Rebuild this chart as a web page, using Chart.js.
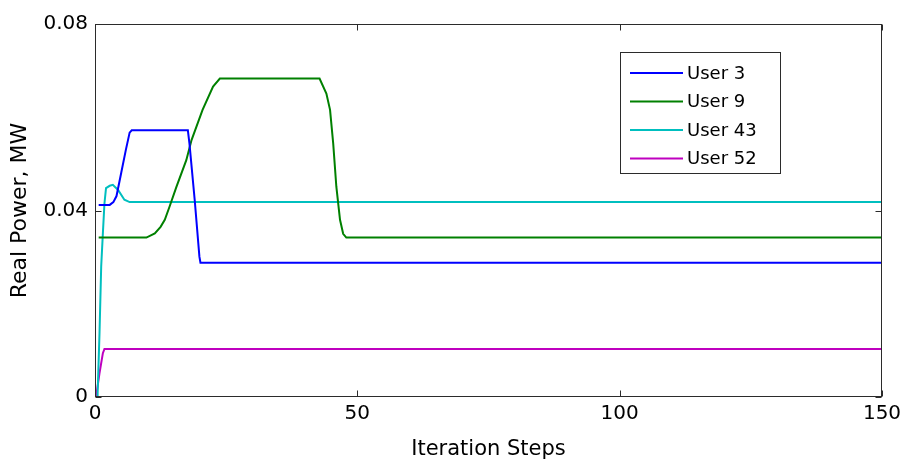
<!DOCTYPE html>
<html>
<head>
<meta charset="utf-8">
<script src="https://cdn.jsdelivr.net/npm/chart.js@4/dist/chart.umd.min.js"></script>
<style>
  html, body { margin: 0; padding: 0; background: #ffffff; }
  #wrap { width: 902px; height: 462px; }
</style>
</head>
<body>
<div id="wrap"><canvas id="chart" width="902" height="462"></canvas></div>
<script>
// Real power per user over the iteration steps
const seriesLabels = ['User 3', 'User 9', 'User 43', 'User 52'];
const seriesColors = ['#0000ff', '#008000', '#00bfbf', '#bf00bf'];

const user3Steps = [0.7, 2.8, 3.5, 4.1, 5.0, 5.9, 6.6, 7.0, 17.7, 18.0, 19.0, 19.9, 20.1, 150];
const user3Power = [0.0412, 0.0412, 0.0418, 0.0431, 0.0481, 0.0531, 0.0567, 0.0572, 0.0572, 0.0544, 0.0423, 0.0301, 0.0288, 0.0288];

const user9Steps = [0.7, 9.8, 11.4, 12.5, 13.3, 14.2, 15.5, 17.4, 18.4, 20.5, 22.5, 23.8, 42.8, 44.1, 44.8, 45.4, 46.0, 46.7, 47.3, 47.9, 150];
const user9Power = [0.0342, 0.0342, 0.0351, 0.0365, 0.0380, 0.0408, 0.0450, 0.0508, 0.0551, 0.0616, 0.0666, 0.0683, 0.0683, 0.0651, 0.0616, 0.0544, 0.0451, 0.0380, 0.0350, 0.0342, 0.0342];

const user43Steps = [0.4, 0.5, 0.86, 1.18, 1.5, 1.8, 2.1, 2.8, 3.4, 4.4, 5.6, 6.6, 150];
const user43Power = [0.0, 0.0008, 0.0137, 0.0280, 0.0351, 0.0415, 0.0448, 0.0453, 0.0455, 0.0444, 0.0423, 0.0418, 0.0418];

const user52Steps = [0.2, 0.86, 1.5, 1.8, 150];
const user52Power = [0.0, 0.0051, 0.0094, 0.0103, 0.0103];

const xTicks = [0, 50, 100, 150];
const yTicks = [0, 0.04, 0.08];
const yTickLabels = ['0', '0.04', '0.08'];

const stepSets = [user3Steps, user9Steps, user43Steps, user52Steps];
const powerSets = [user3Power, user9Power, user43Power, user52Power];

const datasets = seriesLabels.map((label, i) => ({
  label: label,
  data: stepSets[i].map((s, k) => ({ x: s, y: powerSets[i][k] })),
  borderColor: seriesColors[i],
  backgroundColor: seriesColors[i],
  borderWidth: 2,
  pointRadius: 0,
  tension: 0,
  fill: false
}));

const FONT = '"DejaVu Sans", "Liberation Sans", Arial, sans-serif';

// Axes box with inward ticks on all four sides, plus the boxed legend
const frameAndLegend = {
  id: 'frameAndLegend',
  afterDraw(chart) {
    const ctx = chart.ctx;
    const a = chart.chartArea;
    const xs = chart.scales.x, ys = chart.scales.y;
    const L = Math.round(a.left) + 0.5, R = Math.round(a.right) - 0.5;
    const T = Math.round(a.top) + 0.5, B = Math.round(a.bottom) - 0.5;
    ctx.save();
    ctx.strokeStyle = '#2b2b2b';
    ctx.lineWidth = 1;
    ctx.strokeRect(L, T, R - L, B - T);
    const tl = 6;
    ctx.beginPath();
    xTicks.forEach(v => {
      const px = Math.round(xs.getPixelForValue(v)) + 0.5;
      ctx.moveTo(px, B); ctx.lineTo(px, B - tl);
      ctx.moveTo(px, T); ctx.lineTo(px, T + tl);
    });
    yTicks.forEach(v => {
      const py = Math.round(ys.getPixelForValue(v)) + 0.5;
      ctx.moveTo(L, py); ctx.lineTo(L + tl, py);
      ctx.moveTo(R, py); ctx.lineTo(R - tl, py);
    });
    ctx.stroke();

    // legend
    const bx = 620.5, by = 52.5, bw = 160, bh = 121;
    ctx.fillStyle = '#ffffff';
    ctx.fillRect(bx, by, bw, bh);
    ctx.strokeStyle = '#2b2b2b';
    ctx.strokeRect(bx, by, bw, bh);
    ctx.font = '18px ' + FONT;
    ctx.textBaseline = 'middle';
    ctx.textAlign = 'left';
    chart.data.datasets.forEach((ds, i) => {
      const cy = 73 + i * 28.5;
      ctx.strokeStyle = ds.borderColor;
      ctx.lineWidth = 2;
      ctx.beginPath();
      ctx.moveTo(630, cy); ctx.lineTo(683, cy);
      ctx.stroke();
      ctx.fillStyle = '#000000';
      ctx.fillText(ds.label, 687, cy + 1);
    });
    ctx.restore();
  }
};

new Chart(document.getElementById('chart'), {
  type: 'line',
  data: { datasets: datasets },
  plugins: [frameAndLegend],
  options: {
    responsive: false,
    animation: false,
    devicePixelRatio: 1,
    layout: { padding: { top: 24, right: 20, left: 0, bottom: 0 } },
    plugins: { legend: { display: false }, tooltip: { enabled: false } },
    scales: {
      x: {
        type: 'linear',
        min: 0, max: 150,
        afterFit(scale) { scale.height = 65; scale.paddingLeft = 0; scale.paddingRight = 0; },
        afterBuildTicks(scale) { scale.ticks = xTicks.map(v => ({ value: v })); },
        grid: { display: false, drawTicks: false },
        border: { display: false },
        ticks: { color: '#000000', font: { family: FONT, size: 20 }, padding: 5, maxRotation: 0 },
        title: { display: true, text: 'Iteration Steps', color: '#000000', font: { family: FONT, size: 21 }, padding: { top: 0, bottom: 0 } }
      },
      y: {
        type: 'linear',
        min: 0, max: 0.08,
        afterFit(scale) { scale.width = 95; scale.paddingTop = 0; scale.paddingBottom = 0; },
        afterBuildTicks(scale) { scale.ticks = yTicks.map(v => ({ value: v })); },
        grid: { display: false, drawTicks: false },
        border: { display: false },
        ticks: {
          color: '#000000', font: { family: FONT, size: 20 }, padding: 7,
          callback(value) { const i = yTicks.indexOf(value); return i >= 0 ? yTickLabels[i] : ''; }
        },
        title: { display: true, text: 'Real Power, MW', color: '#000000', font: { family: FONT, size: 22 }, padding: { top: 7, bottom: 0 } }
      }
    }
  }
});
</script>
</body>
</html>
